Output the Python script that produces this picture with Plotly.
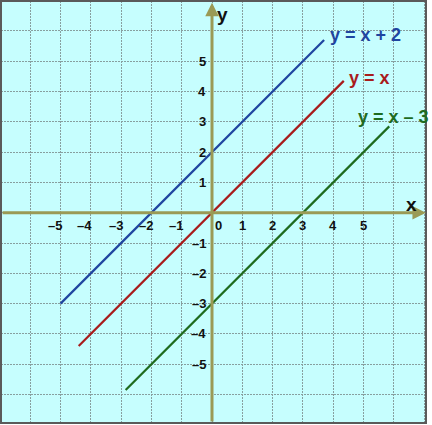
import plotly.graph_objects as go

# ---- data ----
blue_x = [-5, 3.7]
blue_y = [-3, 5.7]
red_x = [-4.4, 4.35]
red_y = [-4.4, 4.35]
green_x = [-2.85, 5.85]
green_y = [-5.85, 2.85]

x_tick_vals = [-5, -4, -3, -2, -1, 1, 2, 3, 4, 5]
x_tick_text = ["–5", "–4", "–3", "–2", "–1", "1", "2", "3", "4", "5"]
y_tick_vals = [5, 4, 3, 2, 1, -1, -2, -3, -4, -5]
y_tick_text = ["5", "4", "3", "2", "1", "–1", "–2", "–3", "–4", "–5"]

labels = ["y = x + 2", "y = x", "y = x – 3"]
label_pos = [(5.08, 5.86), (5.21, 4.45), (6.0, 3.16)]

BLUE = "#1F45A0"
RED = "#A81C1C"
GREEN = "#1E6B1E"
AXIS = "#9A9A55"
FONT = "Arial, Liberation Sans, sans-serif"

fig = go.Figure()
for xs, ys, c in [(blue_x, blue_y, BLUE), (red_x, red_y, RED), (green_x, green_y, GREEN)]:
    fig.add_trace(go.Scatter(x=xs, y=ys, mode="lines", line=dict(color=c, width=2.2),
                             showlegend=False, hoverinfo="skip"))

ann = []
# axes with arrowheads
ann.append(dict(x=0, y=6.93, ax=0, ay=-6.94, xref="x", yref="y", axref="x", ayref="y",
                showarrow=True, arrowhead=2, arrowsize=0.9, arrowwidth=3, arrowcolor=AXIS, text=""))
ann.append(dict(x=7.06, y=0, ax=-6.96, ay=0, xref="x", yref="y", axref="x", ayref="y",
                showarrow=True, arrowhead=2, arrowsize=0.9, arrowwidth=3, arrowcolor=AXIS, text=""))

tick_font = dict(family=FONT, size=13, color="#111111", weight="bold")
for v, t in zip(x_tick_vals, x_tick_text):
    if v < 0:
        ann.append(dict(x=v + 0.12, y=-0.42, text=t, showarrow=False, xanchor="right",
                        yanchor="middle", font=tick_font))
    else:
        ann.append(dict(x=v, y=-0.42, text=t, showarrow=False, xanchor="center",
                        yanchor="middle", font=tick_font))
for v, t in zip(y_tick_vals, y_tick_text):
    ann.append(dict(x=-0.13, y=v, text=t, showarrow=False, xanchor="right",
                    yanchor="middle", font=tick_font))
ann.append(dict(x=0.21, y=-0.42, text="0", showarrow=False, xanchor="center",
                yanchor="middle", font=tick_font))

axis_font = dict(family=FONT, size=19, color="#111111", weight="bold")
ann.append(dict(x=0.36, y=6.55, text="y", showarrow=False, xanchor="center", yanchor="middle", font=axis_font))
ann.append(dict(x=6.6, y=0.28, text="x", showarrow=False, xanchor="center", yanchor="middle", font=axis_font))

for t, (px, py), c in zip(labels, label_pos, [BLUE, RED, GREEN]):
    ann.append(dict(x=px, y=py, text=t, showarrow=False, xanchor="center", yanchor="middle",
                    font=dict(family=FONT, size=18, color=c, weight="bold")))

fig.update_layout(
    width=432, height=425,
    margin=dict(l=1, r=6, t=1, b=2),
    paper_bgcolor="#ffffff",
    plot_bgcolor="#C6FEFE",
    annotations=ann,
    shapes=[dict(type="rect", xref="paper", yref="paper", x0=0, x1=1, y0=0, y1=1,
                 line=dict(color="#5a5a5a", width=2), layer="above")],
)
fig.update_xaxes(range=[-6.964, 7.063], dtick=1, tick0=0, showgrid=True, gridcolor="#879f9f",
                 griddash="2px,1px", gridwidth=1, showticklabels=False, zeroline=False,
                 showline=False, fixedrange=True)
fig.update_yaxes(range=[-6.94, 6.987], dtick=1, tick0=0, showgrid=True, gridcolor="#879f9f",
                 griddash="2px,1px", gridwidth=1, showticklabels=False, zeroline=False,
                 showline=False, fixedrange=True)

fig.write_html("out.html", config={"displayModeBar": False},
               post_script="document.body.style.margin='0';document.body.style.padding='0';")
